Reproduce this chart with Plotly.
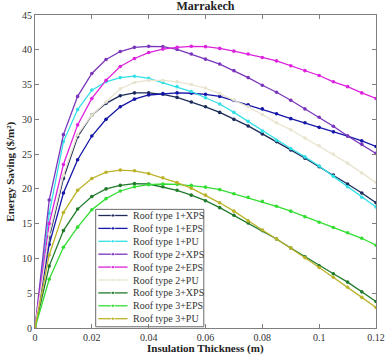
import plotly.graph_objects as go

thickness = [0, 0.005, 0.01, 0.015, 0.02, 0.025, 0.03, 0.035, 0.04, 0.045, 0.05,
             0.055, 0.06, 0.065, 0.07, 0.075, 0.08, 0.085, 0.09, 0.095, 0.1,
             0.105, 0.11, 0.115, 0.12]

names = ["Roof type 1+XPS", "Roof type 1+EPS", "Roof type 1+PU",
         "Roof type 2+XPS", "Roof type 2+EPS", "Roof type 2+PU",
         "Roof type 3+XPS", "Roof type 3+EPS", "Roof type 3+PU"]

r1_xps = [0, 13.0, 21.5, 27.5, 30.6, 32.3, 33.4, 33.8, 33.8, 33.6, 33.15, 32.5, 31.8,
          31.0, 30.0, 29.05, 27.9, 26.8, 25.6, 24.4, 23.2, 22.0, 20.7, 19.4, 18.0]
r1_eps = [0, 12.0, 19.4, 24.2, 27.6, 30.0, 31.8, 32.9, 33.5, 33.7, 33.8, 33.75, 33.6,
          33.3, 32.7, 32.1, 31.5, 30.8, 30.1, 29.5, 28.85, 28.2, 27.6, 26.9, 26.1]
r1_pu = [0, 16.5, 26.8, 31.4, 34.2, 35.4, 36.0, 36.2, 35.9, 35.3, 34.7, 34.0, 33.1,
         32.2, 31.0, 29.7, 28.3, 27.0, 25.8, 24.6, 23.3, 21.8, 20.3, 18.8, 17.4]
r2_xps = [0, 18.4, 27.8, 33.3, 36.6, 38.6, 39.75, 40.35, 40.5, 40.45, 40.05, 39.4, 38.65,
          37.95, 37.0, 36.0, 34.9, 33.9, 32.75, 31.5, 30.3, 29.0, 27.6, 26.4, 25.1]
r2_eps = [0, 15.0, 23.5, 29.2, 33.0, 35.6, 37.6, 38.75, 39.6, 40.1, 40.35, 40.5, 40.45,
          40.2, 39.8, 39.4, 38.9, 38.4, 37.7, 37.0, 36.3, 35.4, 34.7, 33.8, 33.0]
r2_pu = [0, 13.5, 22.0, 27.8, 30.6, 32.5, 34.4, 35.3, 35.6, 35.6, 35.4, 35.0, 34.5,
         33.7, 32.8, 31.8, 30.7, 29.5, 28.5, 27.3, 26.2, 25.0, 23.7, 22.3, 20.9]
r3_xps = [0, 8.9, 14.0, 17.1, 18.9, 20.0, 20.5, 20.75, 20.7, 20.3, 19.8, 19.1, 18.3,
          17.3, 16.2, 15.1, 14.0, 12.8, 11.5, 10.25, 8.95, 7.8, 6.6, 5.2, 3.8]
r3_eps = [0, 7.0, 11.6, 14.5, 17.0, 18.6, 19.7, 20.3, 20.6, 20.7, 20.65, 20.5, 20.25,
          19.9, 19.3, 18.8, 18.2, 17.5, 16.8, 16.0, 15.2, 14.45, 13.7, 12.9, 11.9]
r3_pu = [0, 10.5, 16.6, 19.8, 21.5, 22.4, 22.7, 22.6, 22.2, 21.6, 20.9, 20.1, 19.1,
         18.0, 16.8, 15.4, 14.1, 12.8, 11.5, 10.1, 8.7, 7.3, 5.85, 4.4, 2.95]

series = [r1_xps, r1_eps, r1_pu, r2_xps, r2_eps, r2_pu, r3_xps, r3_eps, r3_pu]
colors = ["#1C2B5A", "#1616A8", "#33E0E6", "#7A35BC", "#DD22DD", "#E8E4CF",
          "#1F7A2A", "#33DD33", "#BBB32A"]

x_ticks = [0, 0.02, 0.04, 0.06, 0.08, 0.1, 0.12]
x_tick_labels = ["0", "0.02", "0.04", "0.06", "0.08", "0.1", "0.12"]
y_ticks = [0, 5, 10, 15, 20, 25, 30, 35, 40, 45]

FONT = "Liberation Serif"

fig = go.Figure()
for name, vals, col in zip(names, series, colors):
    fig.add_trace(go.Scatter(
        x=thickness, y=vals, name=name, mode="lines+markers",
        line=dict(color=col, width=1.3),
        marker=dict(color=col, size=3.6),
        showlegend=False,
    ))

# custom legend drawn on an overlay axis spanning the plot area (0..1)
box_l, box_r, box_b, box_t = 0.178, 0.495, 0.004, 0.379
fig.add_trace(go.Scatter(
    x=[box_l, box_r, box_r, box_l, box_l], y=[box_b, box_b, box_t, box_t, box_b],
    xaxis="x2", yaxis="y2", mode="lines", fill="toself", fillcolor="white",
    line=dict(color="#6a6a6a", width=1), showlegend=False, hoverinfo="skip",
))
annotations = []
for i, (name, col) in enumerate(zip(names, colors)):
    w = (328 - (215.5 + 12.9 * i)) / 313.0
    fig.add_trace(go.Scatter(
        x=[0.1857, 0.2286, 0.2714], y=[w, w, w], xaxis="x2", yaxis="y2",
        mode="lines+markers", line=dict(color=col, width=1.3),
        marker=dict(color=col, size=[0, 3.6, 0]), showlegend=False, hoverinfo="skip",
    ))
    annotations.append(dict(
        x=0.281, y=w, xref="x2", yref="y2", text=name, showarrow=False,
        xanchor="left", yanchor="middle",
        font=dict(family=FONT, size=10, color="#333333"),
    ))

annotations.append(dict(
    x=0.5, y=(328 - 348) / 313.0, xref="paper", yref="paper",
    text="<b>Insulation Thickness (m)</b>", showarrow=False,
    xanchor="center", yanchor="middle",
    font=dict(family=FONT, size=11, color="#222222"),
))
annotations.append(dict(
    x=(9.5 - 35) / 350.0, y=0.5, xref="paper", yref="paper",
    text="<b>Energy Saving ($/m²)</b>", showarrow=False, textangle=-90,
    xanchor="center", yanchor="middle",
    font=dict(family=FONT, size=11, color="#222222"),
))

axis_common = dict(
    showline=True, linecolor="#7f7f7f", linewidth=1, mirror="ticks",
    ticks="inside", ticklen=4, tickcolor="#7f7f7f", showgrid=False, zeroline=False,
    tickfont=dict(family=FONT, size=10, color="#333333"),
    ticklabeloverflow="allow",
)

fig.update_layout(
    width=391, height=360,
    margin=dict(l=35, r=6, t=15, b=32),
    paper_bgcolor="white", plot_bgcolor="white",
    title=dict(text="<b>Marrakech</b>", x=0.5, xref="paper", xanchor="center",
               y=1 - 6 / 360, yref="container", yanchor="middle",
               font=dict(family=FONT, size=12, color="#222222")),
    xaxis=dict(range=[0, 0.12], tickvals=x_ticks, ticktext=x_tick_labels, **axis_common),
    yaxis=dict(range=[0, 45], tickvals=y_ticks, **axis_common),
    xaxis2=dict(range=[0, 1], overlaying="x", anchor="y2", visible=False, fixedrange=True),
    yaxis2=dict(range=[0, 1], overlaying="y", anchor="x2", visible=False, fixedrange=True),
    annotations=annotations,
    showlegend=False,
)

fig.write_html("out.html")
